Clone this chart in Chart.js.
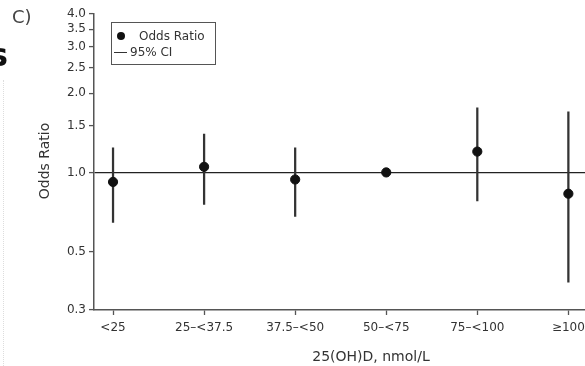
<!DOCTYPE html>
<html>
<head>
<meta charset="utf-8">
<script src="https://cdn.jsdelivr.net/npm/chart.js@4/dist/chart.umd.min.js"></script>
<style>
  body { margin: 0; background: #fff; font-family: "DejaVu Sans", sans-serif; }
  #wrap { position: relative; width: 585px; height: 366px; overflow: hidden; }
  #box { position: absolute; left: 0; top: 0; width: 591px; height: 366px; }
  .txt { position: absolute; color: #333; white-space: nowrap; }
  #panel { left: 12px; top: 6px; font-size: 18px; color: #444; }
  #stray { left: -11px; top: 36px; font-size: 32px; font-weight: bold; color: #111; }
  #ytitle { left: 44px; top: 161px; font-size: 14px; transform: translate(-50%, -50%) rotate(-90deg); }
  #xtitle { left: 371px; top: 356px; font-size: 14px; transform: translate(-50%, -50%); }
  #legend { position: absolute; left: 111px; top: 22px; width: 103px; height: 41px; border: 1px solid #555; font-size: 12px; color: #333; }
  #legend .row { position: absolute; left: 0; width: 100px; height: 16px; line-height: 16px; white-space: nowrap; }
  #legend .dot { position: absolute; left: 5px; top: 4px; width: 8px; height: 8px; border-radius: 50%; background: #111; }
  #legend .dash { position: absolute; left: 2px; top: 8px; width: 13px; height: 1px; background: #333; }
  #dots { position: absolute; left: 3px; top: 80px; width: 0; height: 286px; border-left: 1px dotted #ddd; }
</style>
</head>
<body>
<div id="wrap">
  <div id="box"><canvas id="chart"></canvas></div>
  <div id="dots"></div>
  <div class="txt" id="stray">s</div>
  <div class="txt" id="panel">C)</div>
  <div class="txt" id="ytitle">Odds Ratio</div>
  <div class="txt" id="xtitle">25(OH)D, nmol/L</div>
  <div id="legend">
    <div class="row" style="top:5px;"><span class="dot"></span><span style="position:absolute;left:27px;">Odds Ratio</span></div>
    <div class="row" style="top:21px;"><span class="dash"></span><span style="position:absolute;left:18px;">95% CI</span></div>
  </div>
</div>
<script>
const categories = ['<25', '25\u2013<37.5', '37.5\u2013<50', '50\u2013<75', '75\u2013<100', '\u2265100'];
const oddsRatio = [0.92, 1.05, 0.94, 1.0, 1.20, 0.83];
const ciLow = [0.646, 0.755, 0.68, null, 0.78, 0.383];
const ciHigh = [1.24, 1.40, 1.24, null, 1.76, 1.70];
const yTicks = [0.3, 0.5, 1.0, 1.5, 2.0, 2.5, 3.0, 3.5, 4.0];

const axisColor = '#555';
const tickFont = { family: 'DejaVu Sans', size: 12 };

// reference group (50–<75) has no interval
const ciData = categories
  .map((c, i) => ({ x: i, y: [ciLow[i], ciHigh[i]] }))
  .filter(d => d.y[0] != null);
const orData = categories.map((c, i) => ({ x: i, y: oddsRatio[i] }));

new Chart(document.getElementById('chart').getContext('2d'), {
  type: 'scatter',
  data: {
    datasets: [
      {
        type: 'bar',
        label: '95% CI',
        data: ciData,
        backgroundColor: '#333',
        borderWidth: 0,
        barThickness: 1.6,
        order: 2
      },
      {
        label: 'Odds Ratio',
        data: orData,
        backgroundColor: '#111',
        borderColor: '#111',
        pointRadius: 4.6,
        pointHoverRadius: 4.6,
        order: 1
      }
    ]
  },
  options: {
    responsive: true,
    maintainAspectRatio: false,
    animation: false,
    layout: { padding: { top: 14, left: 0, right: 0, bottom: 0 } },
    plugins: { legend: { display: false }, tooltip: { enabled: false } },
    scales: {
      x: {
        type: 'linear',
        offset: false,
        min: -0.209,
        max: 5.187,
        afterBuildTicks: (s) => { s.ticks = categories.map((c, i) => ({ value: i })); },
        afterFit: (s) => { s.height = 56; s.paddingLeft = 0; s.paddingRight = 0; },
        ticks: {
          callback: (v) => categories[v],
          color: '#333',
          font: tickFont,
          padding: 6,
          maxRotation: 0,
          autoSkip: false
        },
        grid: { offset: false, drawOnChartArea: false, tickLength: 5, tickColor: axisColor, tickWidth: 1.3 },
        border: { color: axisColor, width: 1.5 }
      },
      y: {
        type: 'logarithmic',
        min: 0.3,
        max: 4.0,
        afterBuildTicks: (s) => { s.ticks = yTicks.map(v => ({ value: v })); },
        afterFit: (s) => { s.width = 94; s.paddingTop = 0; s.paddingBottom = 0; },
        ticks: {
          callback: (v) => Number(v).toFixed(1),
          color: '#333',
          font: tickFont,
          padding: 3,
          autoSkip: false
        },
        grid: {
          color: (ctx) => ctx.tick && ctx.tick.value === 1 ? '#222' : 'rgba(0,0,0,0)',
          lineWidth: 1.2,
          tickLength: 5,
          tickColor: axisColor,
          tickWidth: 1.3
        },
        border: { color: axisColor, width: 1.5 }
      }
    }
  }
});
</script>
</body>
</html>
